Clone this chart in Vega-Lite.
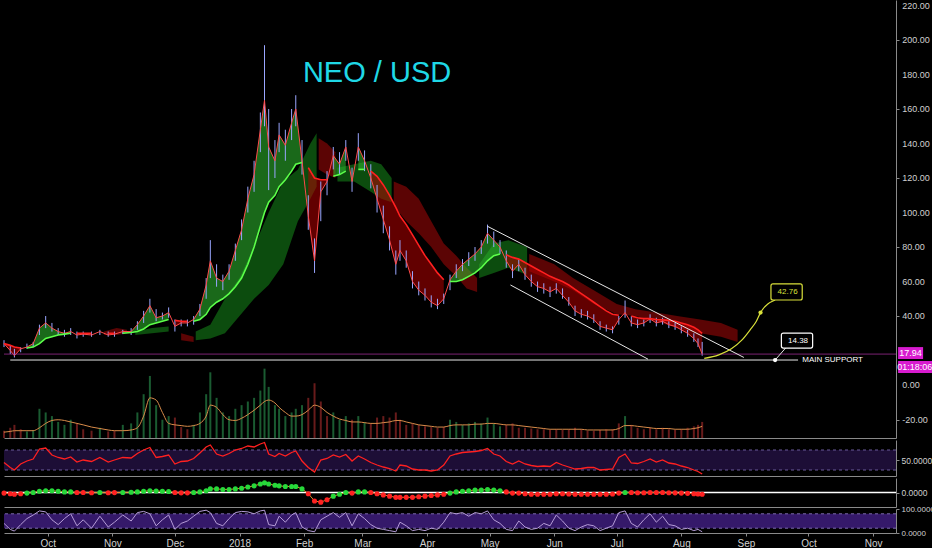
{
  "$schema": "https://vega.github.io/schema/vega-lite/v6.json",
  "background": "#000000",
  "padding": 0,
  "autosize": {"type": "pad"},
  "spacing": 2,
  "bounds": "flush",
  "config": {
    "view": {"stroke": null},
    "font": "Liberation Sans",
    "axis": {"grid": false, "labelColor": "#d0d0d0", "labelFontSize": 9, "tickColor": "#8a8a8a", "domainColor": "#8a8a8a", "tickSize": 3, "labelPadding": 2, "labelOverlap": false}
  },
  "datasets": {
    "px": [
      {"d":"2017-09-10","c":24,"h":26,"l":22,"m":24,"t":"r","s":1,"v":10,"vm":8,"r":45,"k":-0.5,"q":40},
      {"d":"2017-09-13","c":20,"h":23,"l":18,"m":23,"t":"r","s":1,"v":14,"vm":9,"r":35,"k":-1,"q":15},
      {"d":"2017-09-15","c":17,"h":21,"l":16,"m":22,"t":"r","s":1,"v":18,"vm":10,"r":30,"k":-1.5,"q":8},
      {"d":"2017-09-18","c":21,"h":22,"l":19,"m":21.5,"t":"r","s":1,"v":12,"vm":10,"r":42,"k":-1,"q":35},
      {"d":"2017-09-21","c":22,"h":24,"l":21,"m":21.5,"t":"g","s":2,"v":9,"vm":10,"r":48,"k":-0.5,"q":60},
      {"d":"2017-09-24","c":24,"h":25,"l":22,"m":22,"t":"g","s":2,"v":11,"vm":10,"r":52,"k":0,"q":75},
      {"d":"2017-09-27","c":33,"h":35,"l":29,"m":24,"t":"g","s":2,"v":40,"vm":14,"r":72,"k":1,"q":92},
      {"d":"2017-09-30","c":36,"h":40,"l":33,"m":27,"t":"g","s":2,"v":35,"vm":20,"r":74,"k":1.5,"q":88},
      {"d":"2017-10-03","c":33,"h":36,"l":31,"m":28,"t":"g","s":2,"v":30,"vm":24,"r":60,"k":1.5,"q":55},
      {"d":"2017-10-06","c":31,"h":33,"l":29,"m":29,"t":"g","s":2,"v":22,"vm":25,"r":55,"k":1,"q":35},
      {"d":"2017-10-09","c":30,"h":32,"l":28,"m":29.5,"t":"g","s":2,"v":18,"vm":24,"r":52,"k":0.5,"q":60},
      {"d":"2017-10-12","c":31,"h":33,"l":29,"m":30,"t":"g","s":2,"v":25,"vm":22,"r":56,"k":0.5,"q":80},
      {"d":"2017-10-15","c":29,"h":31,"l":27,"m":30,"t":"r","s":3,"v":20,"vm":20,"r":46,"k":0,"q":30},
      {"d":"2017-10-18","c":29.5,"h":31,"l":28,"m":30,"t":"r","s":3,"v":12,"vm":18,"r":50,"k":0,"q":55},
      {"d":"2017-10-22","c":29,"h":31,"l":28,"m":30,"t":"r","s":3,"v":10,"vm":15,"r":47,"k":-0.2,"q":20},
      {"d":"2017-10-26","c":31,"h":32,"l":29,"m":30,"t":"g","s":4,"v":14,"vm":13,"r":55,"k":0,"q":70},
      {"d":"2017-10-30","c":29,"h":31,"l":28,"m":30,"t":"r","s":5,"v":9,"vm":11,"r":46,"k":-0.2,"q":25},
      {"d":"2017-11-02","c":29.5,"h":31,"l":28,"m":30,"t":"r","s":5,"v":10,"vm":10,"r":50,"k":-0.1,"q":45},
      {"d":"2017-11-06","c":31,"h":32,"l":29.5,"m":30,"t":"g","s":6,"v":18,"vm":10,"r":55,"k":0,"q":75},
      {"d":"2017-11-10","c":31,"h":33,"l":29,"m":30.5,"t":"g","s":6,"v":20,"vm":11,"r":54,"k":0.2,"q":50},
      {"d":"2017-11-13","c":35,"h":37,"l":32,"m":31,"t":"g","s":6,"v":35,"vm":14,"r":63,"k":0.5,"q":85},
      {"d":"2017-11-16","c":40,"h":43,"l":36,"m":32.5,"t":"g","s":6,"v":60,"vm":30,"r":70,"k":1,"q":90},
      {"d":"2017-11-19","c":46,"h":50,"l":42,"m":35,"t":"g","s":6,"v":85,"vm":55,"r":75,"k":1.5,"q":80},
      {"d":"2017-11-22","c":39,"h":44,"l":37,"m":36,"t":"g","s":6,"v":45,"vm":52,"r":55,"k":1.2,"q":30},
      {"d":"2017-11-25","c":40,"h":42,"l":38,"m":37,"t":"g","s":6,"v":25,"vm":35,"r":57,"k":1,"q":55},
      {"d":"2017-11-28","c":42,"h":45,"l":39,"m":38,"t":"g","s":6,"v":30,"vm":20,"r":60,"k":0.8,"q":75},
      {"d":"2017-12-01","c":34,"h":38,"l":31,"m":37.5,"t":"r","s":7,"v":28,"vm":18,"r":42,"k":0,"q":15},
      {"d":"2017-12-04","c":36,"h":38,"l":34,"m":37,"t":"r","s":7,"v":15,"vm":17,"r":47,"k":-0.3,"q":40},
      {"d":"2017-12-07","c":36,"h":38,"l":34,"m":37,"t":"r","s":7,"v":12,"vm":16,"r":48,"k":-0.3,"q":50},
      {"d":"2017-12-10","c":38,"h":40,"l":35,"m":37,"t":"g","s":8,"v":18,"vm":17,"r":53,"k":0,"q":70},
      {"d":"2017-12-13","c":44,"h":47,"l":40,"m":38,"t":"g","s":8,"v":35,"vm":20,"r":64,"k":0.5,"q":90},
      {"d":"2017-12-16","c":58,"h":62,"l":50,"m":41,"t":"g","s":8,"v":60,"vm":30,"r":76,"k":1.5,"q":95},
      {"d":"2017-12-18","c":72,"h":84,"l":62,"m":45,"t":"g","s":8,"v":90,"vm":45,"r":80,"k":3,"q":85},
      {"d":"2017-12-21","c":62,"h":70,"l":57,"m":48,"t":"g","s":8,"v":55,"vm":42,"r":62,"k":3,"q":40},
      {"d":"2017-12-24","c":60,"h":64,"l":55,"m":50,"t":"g","s":8,"v":35,"vm":32,"r":58,"k":2.5,"q":30},
      {"d":"2017-12-27","c":66,"h":70,"l":61,"m":53,"t":"g","s":8,"v":30,"vm":25,"r":63,"k":2.5,"q":60},
      {"d":"2017-12-30","c":78,"h":82,"l":72,"m":57,"t":"g","s":8,"v":40,"vm":24,"r":70,"k":3,"q":85},
      {"d":"2018-01-02","c":90,"h":96,"l":84,"m":62,"t":"g","s":8,"v":45,"vm":27,"r":73,"k":3.5,"q":90},
      {"d":"2018-01-05","c":108,"h":115,"l":100,"m":70,"t":"g","s":8,"v":50,"vm":32,"r":78,"k":4.5,"q":88},
      {"d":"2018-01-08","c":122,"h":130,"l":112,"m":80,"t":"g","s":8,"v":55,"vm":38,"r":76,"k":5.5,"q":80},
      {"d":"2018-01-11","c":148,"h":158,"l":135,"m":92,"t":"g","s":8,"v":65,"vm":45,"r":82,"k":7,"q":92},
      {"d":"2018-01-13","c":165,"h":197,"l":150,"m":100,"t":"g","s":8,"v":95,"vm":50,"r":85,"k":8,"q":95},
      {"d":"2018-01-15","c":138,"h":160,"l":113,"m":106,"t":"g","s":8,"v":70,"vm":52,"r":62,"k":7,"q":35},
      {"d":"2018-01-18","c":130,"h":142,"l":120,"m":110,"t":"g","s":8,"v":45,"vm":48,"r":57,"k":6,"q":30},
      {"d":"2018-01-20","c":145,"h":152,"l":135,"m":115,"t":"g","s":8,"v":40,"vm":42,"r":63,"k":5.5,"q":70},
      {"d":"2018-01-23","c":139,"h":148,"l":130,"m":119,"t":"g","s":8,"v":30,"vm":35,"r":58,"k":5,"q":45},
      {"d":"2018-01-26","c":152,"h":160,"l":142,"m":124,"t":"g","s":8,"v":35,"vm":30,"r":65,"k":5,"q":75},
      {"d":"2018-01-28","c":160,"h":168,"l":150,"m":128,"t":"g","s":8,"v":40,"vm":30,"r":68,"k":5,"q":85},
      {"d":"2018-01-31","c":130,"h":142,"l":122,"m":129,"t":"g","s":8,"v":45,"vm":32,"r":48,"k":3,"q":25},
      {"d":"2018-02-03","c":98,"h":110,"l":90,"m":126,"t":"r","s":9,"v":55,"vm":38,"r":35,"k":-1,"q":10},
      {"d":"2018-02-06","c":72,"h":85,"l":65,"m":120,"t":"r","s":9,"v":75,"vm":45,"r":26,"k":-7,"q":5},
      {"d":"2018-02-09","c":112,"h":118,"l":95,"m":119,"t":"r","s":9,"v":50,"vm":42,"r":50,"k":-8,"q":55},
      {"d":"2018-02-12","c":118,"h":124,"l":110,"m":119,"t":"r","s":9,"v":30,"vm":35,"r":53,"k":-6,"q":70},
      {"d":"2018-02-15","c":133,"h":138,"l":125,"m":121,"t":"g","s":10,"v":35,"vm":30,"r":60,"k":-3,"q":85},
      {"d":"2018-02-18","c":128,"h":135,"l":122,"m":122,"t":"g","s":10,"v":25,"vm":26,"r":56,"k":-1.5,"q":65},
      {"d":"2018-02-21","c":138,"h":142,"l":130,"m":124,"t":"g","s":10,"v":30,"vm":24,"r":61,"k":0,"q":85},
      {"d":"2018-02-24","c":118,"h":126,"l":112,"m":123,"t":"r","s":11,"v":25,"vm":22,"r":48,"k":-0.5,"q":30},
      {"d":"2018-02-27","c":138,"h":146,"l":130,"m":125,"t":"g","s":12,"v":30,"vm":22,"r":58,"k":0.5,"q":80},
      {"d":"2018-03-02","c":130,"h":136,"l":124,"m":125,"t":"g","s":12,"v":22,"vm":21,"r":52,"k":0.5,"q":60},
      {"d":"2018-03-05","c":120,"h":128,"l":114,"m":124,"t":"r","s":13,"v":20,"vm":20,"r":45,"k":0,"q":35},
      {"d":"2018-03-08","c":108,"h":116,"l":100,"m":121,"t":"r","s":13,"v":28,"vm":20,"r":40,"k":-1,"q":20},
      {"d":"2018-03-11","c":96,"h":104,"l":88,"m":116,"t":"r","s":13,"v":30,"vm":21,"r":36,"k":-2,"q":15},
      {"d":"2018-03-14","c":84,"h":92,"l":78,"m":110,"t":"r","s":13,"v":28,"vm":22,"r":33,"k":-3,"q":10},
      {"d":"2018-03-17","c":70,"h":78,"l":64,"m":103,"t":"r","s":13,"v":35,"vm":24,"r":28,"k":-4,"q":5},
      {"d":"2018-03-19","c":78,"h":84,"l":72,"m":98,"t":"r","s":13,"v":25,"vm":24,"r":40,"k":-4,"q":45},
      {"d":"2018-03-22","c":72,"h":78,"l":68,"m":93,"t":"r","s":13,"v":18,"vm":22,"r":38,"k":-4,"q":30},
      {"d":"2018-03-25","c":60,"h":66,"l":56,"m":87,"t":"r","s":13,"v":20,"vm":20,"r":32,"k":-4,"q":10},
      {"d":"2018-03-28","c":55,"h":60,"l":52,"m":81,"t":"r","s":13,"v":18,"vm":18,"r":30,"k":-3.5,"q":15},
      {"d":"2018-03-31","c":52,"h":56,"l":49,"m":75,"t":"r","s":13,"v":16,"vm":17,"r":30,"k":-3,"q":10},
      {"d":"2018-04-03","c":48,"h":52,"l":45,"m":70,"t":"r","s":13,"v":15,"vm":16,"r":28,"k":-2.5,"q":20},
      {"d":"2018-04-06","c":46,"h":50,"l":44,"m":65,"t":"r","s":13,"v":14,"vm":15,"r":30,"k":-2,"q":15},
      {"d":"2018-04-09","c":50,"h":53,"l":47,"m":61,"t":"r","s":13,"v":15,"vm":15,"r":40,"k":-1.5,"q":45},
      {"d":"2018-04-12","c":61,"h":64,"l":55,"m":60,"t":"g","s":14,"v":25,"vm":17,"r":58,"k":-0.5,"q":85},
      {"d":"2018-04-15","c":66,"h":70,"l":62,"m":60,"t":"g","s":14,"v":22,"vm":18,"r":62,"k":0.5,"q":80},
      {"d":"2018-04-18","c":70,"h":73,"l":66,"m":61,"t":"g","s":14,"v":18,"vm":18,"r":65,"k":1,"q":85},
      {"d":"2018-04-21","c":73,"h":77,"l":69,"m":63,"t":"g","s":14,"v":20,"vm":18,"r":66,"k":1.5,"q":70},
      {"d":"2018-04-24","c":76,"h":80,"l":72,"m":65,"t":"g","s":14,"v":22,"vm":19,"r":67,"k":2,"q":85},
      {"d":"2018-04-27","c":80,"h":84,"l":76,"m":68,"t":"g","s":14,"v":20,"vm":19,"r":69,"k":2,"q":80},
      {"d":"2018-04-30","c":88,"h":93,"l":82,"m":72,"t":"g","s":14,"v":28,"vm":20,"r":73,"k":2.5,"q":92},
      {"d":"2018-05-03","c":84,"h":89,"l":80,"m":75,"t":"g","s":14,"v":20,"vm":20,"r":62,"k":2,"q":55},
      {"d":"2018-05-06","c":80,"h":84,"l":76,"m":76,"t":"g","s":14,"v":16,"vm":19,"r":58,"k":1.5,"q":40},
      {"d":"2018-05-09","c":72,"h":78,"l":68,"m":75.5,"t":"r","s":15,"v":18,"vm":18,"r":47,"k":0.5,"q":15},
      {"d":"2018-05-12","c":66,"h":70,"l":62,"m":74,"t":"r","s":15,"v":20,"vm":18,"r":42,"k":-0.5,"q":10},
      {"d":"2018-05-15","c":70,"h":73,"l":66,"m":73,"t":"r","s":15,"v":14,"vm":17,"r":48,"k":-0.5,"q":50},
      {"d":"2018-05-18","c":64,"h":68,"l":61,"m":71,"t":"r","s":15,"v":14,"vm":16,"r":42,"k":-1,"q":25},
      {"d":"2018-05-21","c":60,"h":64,"l":57,"m":69,"t":"r","s":15,"v":13,"vm":15,"r":39,"k":-1.5,"q":15},
      {"d":"2018-05-24","c":57,"h":60,"l":54,"m":67,"t":"r","s":15,"v":12,"vm":14,"r":37,"k":-1.5,"q":20},
      {"d":"2018-05-27","c":56,"h":59,"l":53,"m":65,"t":"r","s":15,"v":12,"vm":13,"r":38,"k":-1.5,"q":40},
      {"d":"2018-05-30","c":54,"h":57,"l":51,"m":63,"t":"r","s":15,"v":11,"vm":12,"r":37,"k":-1.5,"q":30},
      {"d":"2018-06-02","c":56,"h":59,"l":53,"m":61.5,"t":"r","s":15,"v":12,"vm":12,"r":45,"k":-1,"q":75},
      {"d":"2018-06-05","c":52,"h":56,"l":50,"m":60,"t":"r","s":15,"v":11,"vm":12,"r":40,"k":-1,"q":50},
      {"d":"2018-06-08","c":48,"h":51,"l":46,"m":58,"t":"r","s":15,"v":12,"vm":12,"r":36,"k":-1.2,"q":20},
      {"d":"2018-06-11","c":43,"h":46,"l":40,"m":55.5,"t":"r","s":15,"v":14,"vm":12,"r":32,"k":-1.5,"q":10},
      {"d":"2018-06-14","c":41,"h":44,"l":39,"m":53,"t":"r","s":15,"v":12,"vm":12,"r":33,"k":-1.5,"q":25},
      {"d":"2018-06-17","c":40,"h":43,"l":38,"m":50.5,"t":"r","s":15,"v":10,"vm":11,"r":35,"k":-1.5,"q":35},
      {"d":"2018-06-20","c":38,"h":41,"l":36,"m":48,"t":"r","s":15,"v":10,"vm":11,"r":35,"k":-1.5,"q":30},
      {"d":"2018-06-23","c":34,"h":37,"l":32,"m":45.5,"t":"r","s":15,"v":11,"vm":11,"r":30,"k":-1.5,"q":10},
      {"d":"2018-06-26","c":33,"h":35,"l":31,"m":43,"t":"r","s":15,"v":12,"vm":11,"r":31,"k":-1.5,"q":20},
      {"d":"2018-06-29","c":32,"h":34,"l":30,"m":41,"t":"r","s":15,"v":12,"vm":11,"r":32,"k":-1.2,"q":30},
      {"d":"2018-07-02","c":38,"h":40,"l":35,"m":40.5,"t":"r","s":15,"v":20,"vm":13,"r":55,"k":-0.5,"q":85},
      {"d":"2018-07-05","c":42,"h":49,"l":39,"m":40.5,"t":"g","s":16,"v":30,"vm":17,"r":62,"k":0,"q":92},
      {"d":"2018-07-08","c":36,"h":40,"l":34,"m":40,"t":"r","s":17,"v":18,"vm":17,"r":44,"k":0,"q":40},
      {"d":"2018-07-11","c":35,"h":38,"l":33,"m":39,"t":"r","s":17,"v":14,"vm":16,"r":43,"k":-0.2,"q":25},
      {"d":"2018-07-14","c":36,"h":38,"l":34,"m":38.5,"t":"r","s":17,"v":12,"vm":15,"r":47,"k":-0.2,"q":55},
      {"d":"2018-07-17","c":38.3,"h":41,"l":36,"m":38.5,"t":"r","s":17,"v":14,"vm":14,"r":52,"k":0,"q":80},
      {"d":"2018-07-20","c":36,"h":39,"l":34,"m":38,"t":"r","s":17,"v":12,"vm":13,"r":46,"k":0,"q":45},
      {"d":"2018-07-23","c":37,"h":39,"l":35,"m":37.8,"t":"r","s":17,"v":14,"vm":13,"r":50,"k":0,"q":70},
      {"d":"2018-07-26","c":35,"h":37,"l":33,"m":37.5,"t":"r","s":17,"v":12,"vm":13,"r":44,"k":-0.2,"q":35},
      {"d":"2018-07-29","c":34,"h":36,"l":32,"m":37,"t":"r","s":17,"v":11,"vm":12,"r":42,"k":-0.3,"q":30},
      {"d":"2018-08-01","c":32,"h":34,"l":30,"m":36,"t":"r","s":17,"v":12,"vm":12,"r":38,"k":-0.5,"q":15},
      {"d":"2018-08-04","c":30,"h":32,"l":28,"m":35,"t":"r","s":17,"v":14,"vm":12,"r":35,"k":-0.7,"q":20},
      {"d":"2018-08-07","c":27,"h":30,"l":25,"m":33.5,"t":"r","s":17,"v":16,"vm":13,"r":30,"k":-1,"q":10},
      {"d":"2018-08-09","c":24,"h":27,"l":22,"m":32,"t":"r","s":17,"v":18,"vm":14,"r":27,"k":-1.2,"q":15},
      {"d":"2018-08-11","c":17.94,"h":25,"l":17,"m":30,"t":"r","s":17,"v":22,"vm":16,"r":22,"k":-1.5,"q":5}
    ],
    "cloud": [
      {"d":"2017-10-28","a":31,"b":29,"col":"r","seg":1},
      {"d":"2017-11-03","a":33,"b":29,"col":"r","seg":1},
      {"d":"2017-11-08","a":32,"b":30,"col":"r","seg":1},
      {"d":"2017-11-12","a":31,"b":29,"col":"g","seg":2},
      {"d":"2017-11-20","a":33,"b":30,"col":"g","seg":2},
      {"d":"2017-11-28","a":34,"b":31,"col":"g","seg":2},
      {"d":"2017-12-04","a":30,"b":26,"col":"r","seg":3},
      {"d":"2017-12-10","a":28,"b":25,"col":"r","seg":3},
      {"d":"2017-12-11","a":31,"b":26,"col":"g","seg":4},
      {"d":"2017-12-18","a":35,"b":27,"col":"g","seg":4},
      {"d":"2017-12-25","a":50,"b":30,"col":"g","seg":4},
      {"d":"2018-01-01","a":62,"b":40,"col":"g","seg":4},
      {"d":"2018-01-08","a":80,"b":50,"col":"g","seg":4},
      {"d":"2018-01-15","a":100,"b":58,"col":"g","seg":4},
      {"d":"2018-01-22","a":118,"b":70,"col":"g","seg":4},
      {"d":"2018-01-29","a":125,"b":95,"col":"g","seg":4},
      {"d":"2018-02-04","a":140,"b":108,"col":"g","seg":4},
      {"d":"2018-02-07","a":146,"b":115,"col":"g","seg":4},
      {"d":"2018-02-08","a":143,"b":125,"col":"r","seg":5},
      {"d":"2018-02-12","a":140,"b":122,"col":"r","seg":5},
      {"d":"2018-02-16","a":135,"b":120,"col":"r","seg":5},
      {"d":"2018-02-17","a":126,"b":118,"col":"g","seg":6},
      {"d":"2018-02-25","a":128,"b":118,"col":"g","seg":6},
      {"d":"2018-03-05","a":130,"b":112,"col":"g","seg":6},
      {"d":"2018-03-10","a":128,"b":108,"col":"g","seg":6},
      {"d":"2018-03-15","a":120,"b":106,"col":"g","seg":6},
      {"d":"2018-03-16","a":118,"b":104,"col":"r","seg":7},
      {"d":"2018-03-22","a":115,"b":95,"col":"r","seg":7},
      {"d":"2018-03-28","a":108,"b":88,"col":"r","seg":7},
      {"d":"2018-04-03","a":95,"b":80,"col":"r","seg":7},
      {"d":"2018-04-09","a":82,"b":70,"col":"r","seg":7},
      {"d":"2018-04-15","a":75,"b":63,"col":"r","seg":7},
      {"d":"2018-04-20","a":68,"b":56,"col":"r","seg":7},
      {"d":"2018-04-25","a":62,"b":54,"col":"r","seg":7},
      {"d":"2018-04-26","a":70,"b":62,"col":"g","seg":8},
      {"d":"2018-05-03","a":82,"b":65,"col":"g","seg":8},
      {"d":"2018-05-10","a":84,"b":68,"col":"g","seg":8},
      {"d":"2018-05-19","a":80,"b":64,"col":"g","seg":8},
      {"d":"2018-05-20","a":76,"b":66,"col":"r","seg":9},
      {"d":"2018-06-01","a":70,"b":60,"col":"r","seg":9},
      {"d":"2018-06-10","a":62,"b":55,"col":"r","seg":9},
      {"d":"2018-06-20","a":55,"b":47,"col":"r","seg":9},
      {"d":"2018-07-01","a":47,"b":41,"col":"r","seg":9},
      {"d":"2018-07-10","a":44,"b":40,"col":"r","seg":9},
      {"d":"2018-07-20","a":42,"b":37,"col":"r","seg":9},
      {"d":"2018-07-30","a":40,"b":33,"col":"r","seg":9},
      {"d":"2018-08-10","a":38,"b":30,"col":"r","seg":9},
      {"d":"2018-08-20","a":36,"b":28,"col":"r","seg":9},
      {"d":"2018-08-28","a":32,"b":25,"col":"r","seg":9}
    ],
    "lines": [
      {"id":"up","d":"2018-04-30","p":92},
      {"id":"up","d":"2018-08-31","p":16},
      {"id":"lo","d":"2018-05-11","p":58},
      {"id":"lo","d":"2018-07-16","p":15},
      {"id":"sup","d":"2017-09-13","p":14.5},
      {"id":"sup","d":"2018-09-26","p":14.5},
      {"id":"tail1","d":"2018-09-20","p":21.4},
      {"id":"tail1","d":"2018-09-15","p":14.5}
    ],
    "curve": [
      {"d":"2018-08-12","p":15.5},
      {"d":"2018-08-19","p":17.5},
      {"d":"2018-08-25","p":21},
      {"d":"2018-08-30","p":26},
      {"d":"2018-09-03","p":32},
      {"d":"2018-09-06","p":37},
      {"d":"2018-09-08","p":42},
      {"d":"2018-09-15","p":49.3}
    ],
    "dots": [
      {"id":"target","d":"2018-09-08","p":42},
      {"id":"support","d":"2018-09-15","p":14.5}
    ],
    "notes": [
      {"id":"target","x1":"2018-09-13","x2":"2018-09-28","y1":49.3,"y2":58.6,"xc":"2018-09-21","yc":54,"label":"42.76"},
      {"id":"support","x1":"2018-09-18","x2":"2018-10-03","y1":21.4,"y2":30.1,"xc":"2018-09-26","yc":25.8,"label":"14.38"}
    ],
    "tags": [
      {"id":"price","x1":"2018-11-13","x2":"2018-11-25","y1":15.1,"y2":22,"xc":"2018-11-19","yc":18.5,"label":"17.94"},
      {"id":"time","x1":"2018-11-13","x2":"2018-11-30","y1":7.0,"y2":13.9,"xc":"2018-11-21","yc":10.4,"label":"01:18:06"}
    ],
    "ylab": [
      {"d":"2018-11-15","p":220,"label":"220.00"},
      {"d":"2018-11-15","p":200,"label":"200.00"},
      {"d":"2018-11-15","p":180,"label":"180.00"},
      {"d":"2018-11-15","p":160,"label":"160.00"},
      {"d":"2018-11-15","p":140,"label":"140.00"},
      {"d":"2018-11-15","p":120,"label":"120.00"},
      {"d":"2018-11-15","p":100,"label":"100.00"},
      {"d":"2018-11-15","p":80,"label":"80.00"},
      {"d":"2018-11-15","p":60,"label":"60.00"},
      {"d":"2018-11-15","p":40,"label":"40.00"},
      {"d":"2018-11-15","p":0,"label":"0.00"},
      {"d":"2018-11-15","p":-20,"label":"-20.00"}
    ]
  },
  "vconcat": [
    {
      "width": 892,
      "height": 438,
      "resolve": {"scale": {"y": "independent"}},
      "layer": [
        {
          "layer": [
            {
              "data": {"name": "cloud"},
              "mark": {"type": "area", "opacity": 0.9},
              "encoding": {
                "x": {"field": "d", "type": "temporal", "title": null, "scale": {"domain": [1505001600000, 1541980800000]}, "axis": {"labels": false, "ticks": false, "title": null, "domain": true}},
                "y": {"field": "a", "type": "quantitative", "title": null, "scale": {"domain": [-30.7, 223.2], "nice": false, "zero": false}, "axis": {"orient": "right", "values": [-20, 0, 40, 60, 80, 100, 120, 140, 160, 180, 200, 220], "labels": false, "title": null}},
                "y2": {"field": "b"},
                "detail": {"field": "seg", "type": "nominal"},
                "color": {"condition": {"test": "datum.col == 'g'", "value": "#0d5410"}, "value": "#650404"}
              }
            },
            {
              "data": {"name": "px"},
              "mark": {"type": "area", "opacity": 0.55},
              "encoding": {
                "x": {"field": "d", "type": "temporal", "title": null},
                "y": {"field": "c", "type": "quantitative", "title": null},
                "y2": {"field": "m"},
                "detail": {"field": "s", "type": "nominal"},
                "color": {"condition": {"test": "datum.t == 'g'", "value": "#2fbf2f"}, "value": "#b30000"}
              }
            },
            {
              "data": {"name": "px"},
              "mark": {"type": "rule", "color": "#9aa6ff", "strokeWidth": 1},
              "encoding": {
                "x": {"field": "d", "type": "temporal", "title": null},
                "y": {"field": "l", "type": "quantitative", "title": null},
                "y2": {"field": "h"}
              }
            },
            {
              "data": {"name": "px"},
              "mark": {"type": "line", "color": "#ff4a4a", "strokeWidth": 1},
              "encoding": {
                "x": {"field": "d", "type": "temporal", "title": null},
                "y": {"field": "c", "type": "quantitative", "title": null}
              }
            },
            {
              "data": {"name": "px"},
              "mark": {"type": "line", "strokeWidth": 1.6},
              "encoding": {
                "x": {"field": "d", "type": "temporal", "title": null},
                "y": {"field": "m", "type": "quantitative", "title": null},
                "detail": {"field": "s", "type": "nominal"},
                "color": {"condition": {"test": "datum.t == 'g'", "value": "#5cff4a"}, "value": "#ff2020"}
              }
            },
            {
              "data": {"values": [{}]},
              "mark": {"type": "rule", "color": "#9a2a8e", "strokeWidth": 1, "opacity": 0.8},
              "encoding": {"y": {"datum": 17.94, "type": "quantitative", "title": null}}
            },
            {
              "data": {"name": "lines"},
              "mark": {"type": "line", "color": "#e6e6e6", "strokeWidth": 1},
              "encoding": {
                "x": {"field": "d", "type": "temporal", "title": null},
                "y": {"field": "p", "type": "quantitative", "title": null},
                "detail": {"field": "id", "type": "nominal"}
              }
            },
            {
              "data": {"name": "curve"},
              "mark": {"type": "line", "color": "#d9e03a", "strokeWidth": 1.2, "interpolate": "monotone"},
              "encoding": {
                "x": {"field": "d", "type": "temporal", "title": null},
                "y": {"field": "p", "type": "quantitative", "title": null}
              }
            },
            {
              "data": {"name": "dots"},
              "mark": {"type": "point", "filled": true, "size": 18, "opacity": 1},
              "encoding": {
                "x": {"field": "d", "type": "temporal", "title": null},
                "y": {"field": "p", "type": "quantitative", "title": null},
                "color": {"condition": {"test": "datum.id == 'target'", "value": "#d9e03a"}, "value": "#ffffff"}
              }
            },
            {
              "data": {"name": "notes"},
              "mark": {"type": "rect", "fill": "#000000", "strokeWidth": 1.2, "cornerRadius": 2},
              "encoding": {
                "x": {"field": "x1", "type": "temporal", "title": null},
                "x2": {"field": "x2"},
                "y": {"field": "y1", "type": "quantitative", "title": null},
                "y2": {"field": "y2"},
                "stroke": {"condition": {"test": "datum.id == 'target'", "value": "#d9e03a"}, "value": "#ffffff"}
              }
            },
            {
              "data": {"name": "notes"},
              "mark": {"type": "text", "fontSize": 8, "align": "center", "baseline": "middle"},
              "encoding": {
                "x": {"field": "xc", "type": "temporal", "title": null},
                "y": {"field": "yc", "type": "quantitative", "title": null},
                "text": {"field": "label"},
                "color": {"condition": {"test": "datum.id == 'target'", "value": "#d9e03a"}, "value": "#ffffff"}
              }
            },
            {
              "data": {"values": [{"d": "2018-09-28", "p": 14.5, "label": "MAIN SUPPORT"}]},
              "mark": {"type": "text", "fontSize": 8, "align": "left", "baseline": "middle", "color": "#ffffff"},
              "encoding": {
                "x": {"field": "d", "type": "temporal", "title": null},
                "y": {"field": "p", "type": "quantitative", "title": null},
                "text": {"field": "label"}
              }
            },
            {
              "data": {"values": [{"d": "2018-03-08", "p": 181, "label": "NEO / USD"}]},
              "mark": {"type": "text", "fontSize": 29, "align": "center", "baseline": "middle", "color": "#1fd8e6"},
              "encoding": {
                "x": {"field": "d", "type": "temporal", "title": null},
                "y": {"field": "p", "type": "quantitative", "title": null},
                "text": {"field": "label"}
              }
            },
            {
              "data": {"name": "ylab"},
              "mark": {"type": "text", "fontSize": 9, "align": "left", "baseline": "middle", "color": "#d0d0d0"},
              "encoding": {
                "x": {"field": "d", "type": "temporal", "title": null},
                "y": {"field": "p", "type": "quantitative", "title": null},
                "text": {"field": "label"}
              }
            },
            {
              "data": {"name": "tags"},
              "mark": {"type": "rect", "fill": "#d81bcf"},
              "encoding": {
                "x": {"field": "x1", "type": "temporal", "title": null},
                "x2": {"field": "x2"},
                "y": {"field": "y1", "type": "quantitative", "title": null},
                "y2": {"field": "y2"}
              }
            },
            {
              "data": {"name": "tags"},
              "mark": {"type": "text", "fontSize": 9, "align": "center", "baseline": "middle", "color": "#ffffff"},
              "encoding": {
                "x": {"field": "xc", "type": "temporal", "title": null},
                "y": {"field": "yc", "type": "quantitative", "title": null},
                "text": {"field": "label"}
              }
            }
          ]
        },
        {
          "layer": [
            {
              "data": {"name": "px"},
              "mark": {"type": "rule", "strokeWidth": 2, "opacity": 0.85},
              "encoding": {
                "x": {"field": "d", "type": "temporal", "title": null},
                "y": {"field": "v", "type": "quantitative", "title": null, "scale": {"domain": [0, 600], "nice": false}, "axis": null},
                "y2": {"datum": 0},
                "color": {"condition": {"test": "datum.t == 'g'", "value": "#1e6b3a"}, "value": "#7a2020"}
              }
            },
            {
              "data": {"name": "px"},
              "mark": {"type": "line", "color": "#d98c4a", "strokeWidth": 1, "interpolate": "monotone"},
              "encoding": {
                "x": {"field": "d", "type": "temporal", "title": null},
                "y": {"field": "vm", "type": "quantitative", "title": null}
              }
            }
          ]
        }
      ]
    },
    {
      "width": 892,
      "height": 36,
      "layer": [
        {
          "data": {"values": [{}]},
          "mark": {"type": "rect", "color": "#1d0e36"},
          "encoding": {"y": {"datum": 70, "type": "quantitative", "title": null}, "y2": {"datum": 30}}
        },
        {
          "data": {"values": [{"y": 30}, {"y": 70}]},
          "mark": {"type": "rule", "color": "#6a5a9a", "strokeDash": [3, 3]},
          "encoding": {"y": {"field": "y", "type": "quantitative", "title": null}}
        },
        {
          "data": {"name": "px"},
          "mark": {"type": "line", "color": "#ff2020", "strokeWidth": 1.3},
          "encoding": {
            "x": {"field": "d", "type": "temporal", "title": null, "scale": {"domain": [1505001600000, 1541980800000]}, "axis": {"labels": false, "ticks": false, "title": null}},
            "y": {"field": "r", "type": "quantitative", "title": null, "scale": {"domain": [18, 90], "nice": false, "zero": false}, "axis": {"orient": "right", "values": [50], "format": ".4f", "title": null, "labelFontSize": 8.5}}
          }
        }
      ]
    },
    {
      "width": 892,
      "height": 29,
      "layer": [
        {
          "data": {"values": [{}]},
          "mark": {"type": "rule", "color": "#ffffff", "strokeWidth": 1.5},
          "encoding": {"y": {"datum": 0, "type": "quantitative", "title": null}}
        },
        {
          "data": {"name": "px"},
          "mark": {"type": "line", "color": "#e08a2a", "strokeWidth": 1},
          "encoding": {
            "x": {"field": "d", "type": "temporal", "title": null, "scale": {"domain": [1505001600000, 1541980800000]}, "axis": {"labels": false, "ticks": false, "title": null}},
            "y": {"field": "k", "type": "quantitative", "title": null, "scale": {"domain": [-12, 12], "nice": false}, "axis": {"orient": "right", "values": [0], "format": ".4f", "title": null, "labelFontSize": 8.5}}
          }
        },
        {
          "data": {"name": "px"},
          "mark": {"type": "point", "filled": true, "size": 26, "opacity": 1},
          "encoding": {
            "x": {"field": "d", "type": "temporal", "title": null},
            "y": {"field": "k", "type": "quantitative", "title": null},
            "color": {"condition": {"test": "datum.t == 'g'", "value": "#27d83a"}, "value": "#ff2222"}
          }
        }
      ]
    },
    {
      "width": 892,
      "height": 24,
      "layer": [
        {
          "data": {"values": [{}]},
          "mark": {"type": "rect", "color": "#35196a"},
          "encoding": {"y": {"datum": 80, "type": "quantitative", "title": null}, "y2": {"datum": 20}}
        },
        {
          "data": {"values": [{"y": 20}, {"y": 80}]},
          "mark": {"type": "rule", "color": "#7a6aa8", "strokeDash": [3, 3]},
          "encoding": {"y": {"field": "y", "type": "quantitative", "title": null}}
        },
        {
          "data": {"name": "px"},
          "mark": {"type": "line", "color": "#b59cd8", "strokeWidth": 1},
          "encoding": {
            "x": {"field": "d", "type": "temporal", "title": null, "scale": {"domain": [1505001600000, 1541980800000]}, "axis": {"title": null, "tickCount": {"interval": "month", "step": 1}, "labelExpr": "month(datum.value) == 0 ? timeFormat(datum.value, '%Y') : timeFormat(datum.value, '%b')", "labelFontSize": 10, "labelPadding": 2, "tickSize": 3}},
            "y": {"field": "q", "type": "quantitative", "title": null, "scale": {"domain": [0, 100], "nice": false}, "axis": {"orient": "right", "values": [0, 100], "format": ".4f", "title": null, "labelFontSize": 8}}
          }
        }
      ]
    }
  ]
}
